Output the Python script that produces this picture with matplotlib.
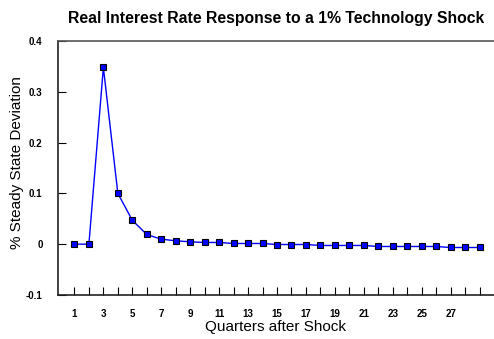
import matplotlib
matplotlib.use("Agg")
import matplotlib.pyplot as plt

plt.rcParams['font.family'] = ['Liberation Sans', 'DejaVu Sans']

# quarters after the shock and the real interest rate response
quarters = list(range(1, 30))
response = [0.0, 0.0, 0.348, 0.100, 0.047, 0.019, 0.0098, 0.0066, 0.0046, 0.0033,
            0.0033, 0.0013, 0.0013, 0.0013, -0.0007, -0.0007, -0.0007, -0.0026, -0.0026, -0.0026,
            -0.0026, -0.0046, -0.0046, -0.0046, -0.0046, -0.0046, -0.0066, -0.0066, -0.0066]

y_ticks = [-0.1, 0, 0.1, 0.2, 0.3, 0.4]
y_labels = ['-0.1', '0', '0.1', '0.2', '0.3', '0.4']
x_labels = [str(q) if q % 2 == 1 and q < 29 else '' for q in quarters]

fig = plt.figure(figsize=(4.94, 3.39), dpi=100)
ax = fig.add_axes([0.117, 0.13, 0.883, 0.749])

ax.plot(quarters, response, color='#0000ff', linewidth=1.0, marker='s',
        markersize=4.5, markerfacecolor='#0000ff', markeredgecolor='black',
        markeredgewidth=0.8, clip_on=False)

ax.set_xlim(-0.15, 30)
ax.set_ylim(-0.1, 0.4)
ax.set_xticks(quarters)
ax.set_xticklabels(x_labels, fontsize=7, fontweight='bold')
ax.set_yticks(y_ticks)
ax.set_yticklabels(y_labels, fontsize=7, fontweight='bold')
ax.tick_params(axis='x', direction='in', length=6, width=0.8, pad=10)
ax.tick_params(axis='y', direction='in', length=6, width=0.8, pad=11)

ax.spines['right'].set_visible(False)
ax.spines['top'].set_color('#555555')
ax.spines['top'].set_linewidth(1.2)
ax.spines['left'].set_linewidth(1.2)
ax.spines['bottom'].set_linewidth(1.2)
ax.spines['left'].set_color('#222222')
ax.spines['bottom'].set_color('#222222')

ax.set_title('Real Interest Rate Response to a 1% Technology Shock',
             fontsize=11.3, fontweight='bold', pad=13)
ax.set_xlabel('Quarters after Shock', fontsize=11, labelpad=1)
ax.set_ylabel('% Steady State Deviation', fontsize=11, va='center')
ax.yaxis.set_label_coords(-0.094, 0.52)

plt.savefig('out.png', dpi=100)
